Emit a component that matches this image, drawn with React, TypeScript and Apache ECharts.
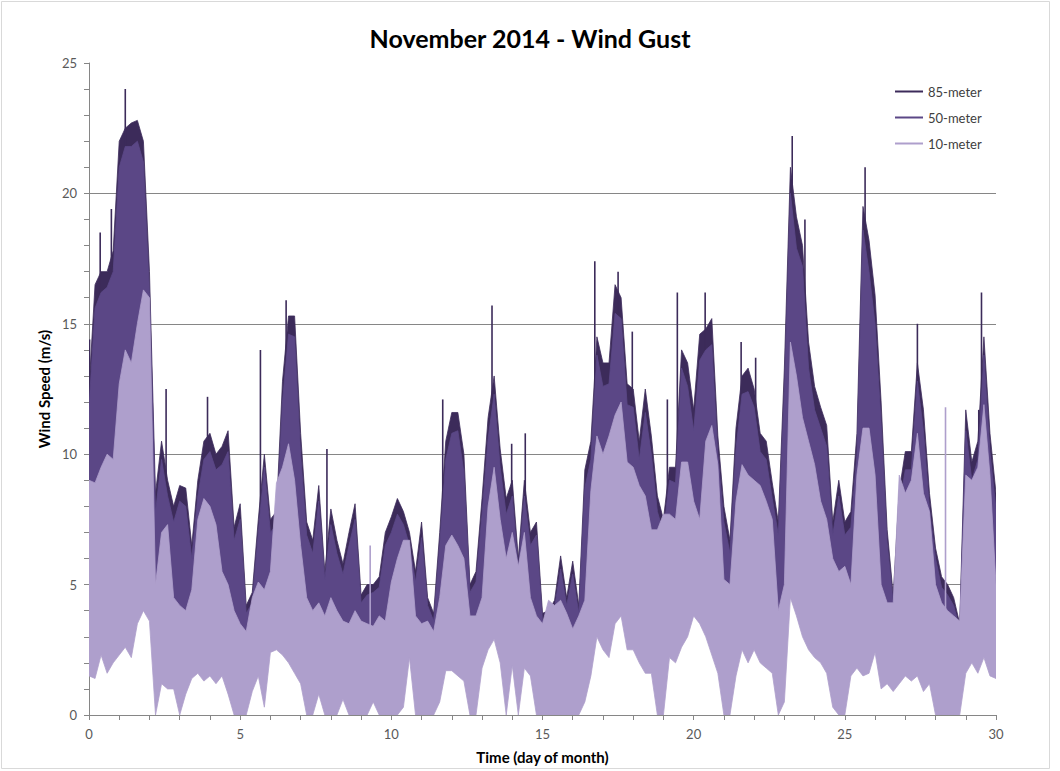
import React, { useEffect, useRef } from "react";
import * as echarts from "echarts";

const TITLE = "November 2014 - Wind Gust";
const X_NAME = "Time (day of month)";
const Y_NAME = "Wind Speed (m/s)";
const SERIES_NAMES = ["85-meter", "50-meter", "10-meter"];
const STEP = 0.2;
// sample positions (day of month), one every 0.2 day
const DAYS = Array.from({ length: 151 }, (_, i) => Math.round(i * STEP * 10) / 10);

// upper / lower envelopes of each gust trace (m/s), 5 samples per day
const HI_85 = [
  12.5, 16.5, 17.0, 17.0, 17.8, 22.0, 22.5, 22.7, 22.8, 22.0,
  17.0, 8.5, 10.5, 9.0, 8.0, 8.8, 8.7, 6.5, 9.0, 10.5,
  10.8, 10.0, 10.3, 10.9, 7.2, 8.1, 4.2, 4.7, 7.5, 10.0,
  7.5, 7.8, 12.8, 15.3, 15.3, 10.8, 7.4, 6.7, 8.8, 5.5,
  7.9, 6.7, 5.8, 7.0, 8.1, 4.6, 5.0, 5.0, 5.3, 7.0,
  7.6, 8.3, 7.8, 7.0, 5.5, 7.4, 4.5, 3.9, 7.0, 10.5,
  11.6, 11.6, 10.0, 5.0, 5.5, 8.3, 11.4, 13.0, 10.2, 8.3,
  9.0, 6.0, 9.0, 7.0, 7.4, 3.9, 4.0, 4.4, 6.1, 4.5,
  5.9, 4.2, 9.4, 10.5, 14.5, 13.5, 13.5, 16.5, 16.0, 12.7,
  12.5, 10.5, 12.5, 10.7, 8.4, 7.5, 9.5, 9.5, 14.0, 13.5,
  11.7, 14.6, 14.8, 15.2, 10.7, 8.0, 6.7, 11.0, 13.0, 13.3,
  12.5, 10.8, 10.5, 8.9, 7.4, 13.3, 21.0, 19.1, 18.0, 14.3,
  12.6, 11.8, 11.1, 7.4, 9.0, 7.4, 7.8, 10.8, 19.5, 18.2,
  16.1, 12.0, 7.1, 4.6, 8.6, 10.1, 10.1, 13.5, 11.7, 8.5,
  6.4, 5.3, 5.0, 4.5, 3.5, 11.7, 9.7, 10.5, 14.5, 10.8,
  8.5,
];
const LO_85 = [
  7.5, 8.0, 8.5, 9.0, 8.8, 11.0, 12.5, 12.0, 13.5, 14.5,
  13.0, 3.5, 4.5, 5.5, 3.8, 3.5, 3.8, 3.5, 5.5, 6.5,
  6.0, 5.0, 4.2, 4.0, 3.5, 3.2, 3.0, 3.5, 4.0, 4.2,
  4.5, 6.5, 8.0, 9.0, 8.0, 5.0, 3.8, 3.5, 3.6, 3.4,
  3.8, 3.5, 3.2, 3.0, 3.5, 3.2, 3.2, 3.0, 3.3, 3.2,
  4.0, 5.0, 5.5, 5.0, 3.4, 3.2, 3.3, 2.8, 3.5, 5.5,
  6.0, 5.5, 5.0, 3.3, 3.4, 3.8, 6.5, 8.5, 6.5, 5.0,
  5.5, 4.5, 5.5, 3.8, 3.4, 3.0, 3.5, 3.5, 3.5, 3.3,
  3.0, 3.3, 3.8, 7.0, 9.0, 8.5, 9.0, 10.0, 10.5, 8.5,
  8.0, 7.5, 7.0, 6.0, 6.0, 6.5, 6.5, 6.5, 8.0, 8.0,
  7.0, 6.5, 9.0, 9.5, 8.0, 4.5, 4.3, 7.0, 8.0, 8.0,
  7.5, 7.5, 7.0, 6.5, 3.5, 4.3, 12.5, 11.5, 10.0, 9.0,
  8.0, 7.0, 6.5, 5.0, 4.8, 5.0, 4.3, 8.0, 9.5, 9.5,
  8.0, 4.3, 3.7, 3.7, 8.0, 7.3, 7.8, 9.5, 7.5, 6.8,
  4.3, 3.7, 3.5, 3.3, 3.1, 8.0, 7.8, 8.3, 10.5, 8.0,
  4.3,
];
const HI_50 = [
  11.8, 15.6, 16.2, 16.4, 17.0, 21.0, 21.8, 21.8, 22.0, 21.2,
  16.2, 7.8, 9.8, 8.4, 7.4, 8.2, 8.0, 6.0, 8.4, 9.8,
  10.1, 9.4, 9.6, 10.1, 6.7, 7.5, 3.9, 4.3, 7.0, 9.5,
  7.0, 7.3, 12.0, 14.6, 14.5, 10.0, 6.9, 6.2, 8.2, 5.2,
  7.3, 6.2, 5.4, 6.5, 7.5, 4.3, 4.6, 4.7, 4.9, 6.5,
  7.0, 7.7, 7.3, 6.5, 5.1, 6.8, 4.2, 3.6, 6.5, 9.8,
  10.8, 10.9, 9.3, 4.7, 5.1, 7.7, 10.6, 12.3, 9.5, 7.7,
  8.4, 5.6, 8.4, 6.5, 6.9, 3.6, 3.7, 4.1, 5.6, 4.2,
  5.4, 3.9, 8.7, 9.8, 13.8, 12.6, 12.7, 15.4, 15.2, 11.9,
  11.8, 9.8, 11.6, 10.0, 7.8, 7.0, 9.0, 8.9, 13.3, 12.6,
  10.9, 13.6, 14.0, 14.2, 10.0, 7.4, 6.2, 10.2, 12.3, 12.4,
  11.8, 10.1, 9.8, 8.3, 6.9, 12.4, 20.0, 17.9, 17.2, 13.3,
  11.7, 11.0, 10.3, 6.9, 8.4, 6.9, 7.2, 10.0, 18.6, 17.0,
  15.0, 11.2, 6.6, 4.3, 8.0, 9.4, 9.4, 12.8, 10.9, 7.9,
  6.0, 4.9, 4.6, 4.2, 3.3, 10.9, 9.0, 9.8, 13.8, 10.1,
  7.9,
];
const LO_50 = [
  7.0, 7.5, 8.0, 8.5, 8.3, 10.5, 12.0, 11.5, 13.0, 14.0,
  12.5, 3.3, 4.3, 5.2, 3.6, 3.3, 3.6, 3.3, 5.2, 6.2,
  5.7, 4.8, 4.0, 3.8, 3.3, 3.0, 2.9, 3.3, 3.8, 4.0,
  4.3, 6.2, 7.6, 8.6, 7.6, 4.8, 3.6, 3.3, 3.4, 3.2,
  3.6, 3.3, 3.0, 2.9, 3.3, 3.0, 3.0, 2.9, 3.1, 3.0,
  3.8, 4.8, 5.2, 4.8, 3.2, 3.0, 3.1, 2.7, 3.3, 5.2,
  5.7, 5.2, 4.8, 3.1, 3.2, 3.6, 6.2, 8.0, 6.2, 4.8,
  5.2, 4.3, 5.2, 3.6, 3.2, 2.9, 3.3, 3.3, 3.3, 3.1,
  2.9, 3.1, 3.6, 6.6, 8.6, 8.0, 8.6, 9.5, 10.0, 8.0,
  7.6, 7.1, 6.6, 5.7, 5.7, 6.2, 6.2, 6.2, 7.6, 7.6,
  6.6, 6.2, 8.6, 9.0, 7.6, 4.3, 4.1, 6.6, 7.6, 7.6,
  7.1, 7.1, 6.6, 6.2, 3.3, 4.1, 12.0, 11.0, 9.5, 8.6,
  7.6, 6.6, 6.2, 4.8, 4.6, 4.8, 4.1, 7.6, 9.0, 9.0,
  7.6, 4.1, 3.5, 3.5, 7.6, 7.0, 7.4, 9.0, 7.1, 6.5,
  4.1, 3.5, 3.3, 3.1, 2.9, 7.6, 7.4, 7.9, 10.0, 7.6,
  4.1,
];
const HI_10 = [
  9.0, 8.9, 9.5, 10.0, 9.8, 12.7, 14.0, 13.5, 15.0, 16.3,
  16.0, 5.0, 7.0, 7.3, 4.5, 4.2, 4.0, 4.8, 7.5, 8.3,
  8.0, 7.3, 5.5, 5.0, 4.0, 3.5, 3.2, 4.5, 5.1, 4.8,
  5.5, 8.9, 9.5, 10.4, 9.0, 6.5, 4.5, 4.0, 4.3, 3.8,
  4.5, 4.0, 3.6, 3.5, 4.0, 3.6, 3.5, 3.4, 3.8, 3.6,
  5.1, 6.0, 6.7, 6.7, 3.8, 3.5, 3.6, 3.2, 4.5, 6.5,
  6.9, 6.5, 6.0, 3.8, 3.8, 4.5, 8.0, 9.5, 7.5, 6.0,
  7.0, 5.7, 7.0, 4.5, 3.8, 3.5, 4.4, 4.2, 4.4, 3.9,
  3.3, 3.8, 4.4, 8.6, 10.7, 10.0, 10.7, 11.5, 12.0, 9.7,
  9.5, 8.8, 8.4, 7.1, 7.1, 7.7, 7.7, 7.5, 9.7, 9.7,
  8.2, 7.5, 10.5, 11.1, 9.6, 5.2, 5.0, 8.2, 9.6, 9.2,
  9.0, 8.8, 8.2, 7.5, 4.0, 5.0, 14.3, 13.0, 11.4, 10.5,
  9.6, 8.2, 7.5, 6.0, 5.5, 5.7, 5.0, 9.2, 11.0, 11.0,
  9.2, 5.0, 4.3, 4.3, 9.2, 8.5, 9.0, 10.8, 8.5, 7.8,
  5.0, 4.3, 4.0, 3.8, 3.6, 9.2, 9.0, 9.5, 11.9, 9.2,
  5.0,
];
const LO_10 = [
  1.5, 1.4, 2.3, 1.6, 2.0, 2.3, 2.6, 2.2, 3.5, 4.0,
  3.6, 0.0, 1.2, 1.0, 1.0, 0.0, 0.8, 1.4, 1.6, 1.3,
  1.5, 1.2, 1.5, 0.8, 0.0, 0.0, 0.0, 0.9, 1.5, 0.3,
  2.4, 2.5, 2.3, 2.0, 1.6, 1.2, 0.0, 0.0, 0.8, 0.0,
  0.0, 0.0, 0.6, 0.0, 0.0, 0.0, 0.0, 0.5, 0.0, 0.0,
  0.0, 0.0, 0.3, 2.2, 0.0, 0.0, 0.0, 0.0, 0.5, 1.7,
  1.7, 1.5, 1.3, 0.0, 0.0, 1.8, 2.5, 2.9, 2.0, 0.0,
  1.9, 0.0, 1.8, 1.5, 0.0, 0.0, 0.0, 0.0, 0.0, 0.0,
  0.0, 0.0, 0.5, 1.5, 3.0, 2.5, 2.2, 3.5, 3.8, 2.5,
  2.5, 2.0, 1.6, 1.6, 0.0, 0.0, 2.2, 2.0, 2.6, 3.0,
  3.8, 3.5, 3.0, 2.3, 1.6, 0.0, 0.0, 1.5, 2.5, 2.0,
  2.5, 2.0, 1.8, 1.6, 0.0, 0.5, 4.5, 3.8, 3.0, 2.5,
  2.2, 2.0, 1.6, 0.3, 0.0, 0.0, 1.5, 1.8, 1.5, 1.6,
  2.4, 1.0, 1.2, 0.9, 1.2, 1.5, 1.3, 1.5, 0.9, 1.2,
  0.0, 0.0, 0.0, 0.0, 0.0, 1.6, 2.0, 1.6, 2.2, 1.5,
  1.4,
];
// isolated gust spikes [day, m/s]
const SPIKES_85: [number, number][] = [
  [0.02, 14.4], [0.37, 18.5], [0.74, 19.4], [1.2, 24.0], [2.55, 12.5], [3.92, 12.2],
  [5.67, 14.0], [6.52, 15.9], [7.87, 10.2], [11.7, 12.1], [13.33, 15.7], [13.98, 10.4],
  [14.43, 10.8], [16.73, 17.4], [17.5, 17.0], [17.97, 14.7], [19.13, 12.1], [19.46, 16.2],
  [20.38, 16.2], [21.57, 14.3], [22.05, 13.7], [23.26, 22.2], [23.68, 19.0], [25.67, 21.0],
  [27.4, 15.0], [29.43, 11.7], [29.52, 16.2],
];
const SPIKES_10: [number, number][] = [[9.3, 6.5], [28.33, 11.8]];

const COLORS = ["#3c2b5a", "#5b4786", "#ae9fcc"];
const FONT = "Lato, 'Open Sans', sans-serif";

function band(
  name: string,
  hi: number[],
  lo: number[],
  spikes: [number, number][],
  base: number[],
  color: string,
  z: number
) {
  return {
    type: "custom",
    name,
    z,
    clip: true,
    itemStyle: { color },
    data: DAYS.map((d, i) => [d, lo[i], hi[i]]),
    encode: { x: 0, y: [1, 2] },
    renderItem: (params: any, api: any) => {
      if (params.dataIndex !== 0) return null;
      const top = DAYS.map((d, i) => api.coord([d, hi[i]]));
      const bot = DAYS.map((d, i) => api.coord([d, lo[i]])).reverse();
      const children: any[] = [
        {
          type: "polygon",
          shape: { points: top.concat(bot) },
          style: { fill: color, stroke: color, lineWidth: 0.8 },
        },
      ];
      spikes.forEach(([d, v]) => {
        const i = Math.round(d / STEP);
        const a = api.coord([d, base[i]]);
        const b = api.coord([d, v]);
        children.push({
          type: "line",
          shape: { x1: a[0], y1: a[1], x2: b[0], y2: b[1] },
          style: { stroke: color, lineWidth: 1.6 },
        });
      });
      return { type: "group", children };
    },
  };
}

export default function App() {
  const ref = useRef<HTMLDivElement>(null);
  useEffect(() => {
    document.body.style.margin = "0";
    const chart = echarts.init(ref.current!, null, { renderer: "svg" });
    const axisColor = "#868686";
    chart.setOption({
      animation: false,
      backgroundColor: "#ffffff",
      title: {
        text: TITLE,
        left: "center",
        top: 20,
        textStyle: { fontFamily: FONT, fontWeight: "bold", fontSize: 25, color: "#000000" },
      },
      legend: {
        orient: "vertical",
        left: 890,
        top: 80,
        icon: "rect",
        itemWidth: 28,
        itemHeight: 2,
        itemGap: 13,
        textStyle: { fontFamily: FONT, fontSize: 13, color: "#404040" },
        data: SERIES_NAMES.map((n, i) => ({ name: n, itemStyle: { color: COLORS[i] } })),
      },
      grid: { left: 89, right: 64, top: 63, bottom: 56 },
      xAxis: {
        type: "value",
        min: 0,
        max: 30,
        interval: 5,
        name: X_NAME,
        nameLocation: "middle",
        nameGap: 34,
        nameTextStyle: { fontFamily: FONT, fontWeight: "bold", fontSize: 15, color: "#000" },
        axisLine: { show: true, lineStyle: { color: axisColor } },
        axisTick: { show: true, length: 5, lineStyle: { color: axisColor } },
        minorTick: { show: true, splitNumber: 5, length: 5, lineStyle: { color: axisColor } },
        axisLabel: { fontFamily: FONT, fontSize: 13, color: "#595959", margin: 12 },
        splitLine: { show: false },
      },
      yAxis: {
        type: "value",
        min: 0,
        max: 25,
        interval: 5,
        name: Y_NAME,
        nameLocation: "middle",
        nameGap: 37,
        nameTextStyle: { fontFamily: FONT, fontWeight: "bold", fontSize: 15, color: "#000" },
        axisLine: { show: true, lineStyle: { color: axisColor } },
        axisTick: { show: true, length: 5, lineStyle: { color: axisColor } },
        minorTick: { show: true, splitNumber: 5, length: 5, lineStyle: { color: axisColor } },
        axisLabel: { fontFamily: FONT, fontSize: 13, color: "#595959", margin: 12 },
        splitLine: {
          show: true,
          lineStyle: {
            color: ["rgba(0,0,0,0)", axisColor, axisColor, axisColor, axisColor, "rgba(0,0,0,0)"],
            width: 1,
          },
        },
      },
      graphic: [
        {
          type: "rect",
          shape: { x: 1.5, y: 1.5, width: 1048, height: 767 },
          style: { fill: "none", stroke: "#d9d9d9", lineWidth: 1 },
          silent: true,
        },
      ],
      series: [
        band(SERIES_NAMES[0], HI_85, LO_85, SPIKES_85, LO_85, COLORS[0], 2),
        band(SERIES_NAMES[1], HI_50, LO_50, [], LO_50, COLORS[1], 3),
        band(SERIES_NAMES[2], HI_10, LO_10, SPIKES_10, HI_10, COLORS[2], 4),
      ],
    });
    return () => chart.dispose();
  }, []);
  return (
    <div
      ref={ref}
      style={{ position: "fixed", left: 0, top: 0, width: 1060, height: 771 }}
    />
  );
}
